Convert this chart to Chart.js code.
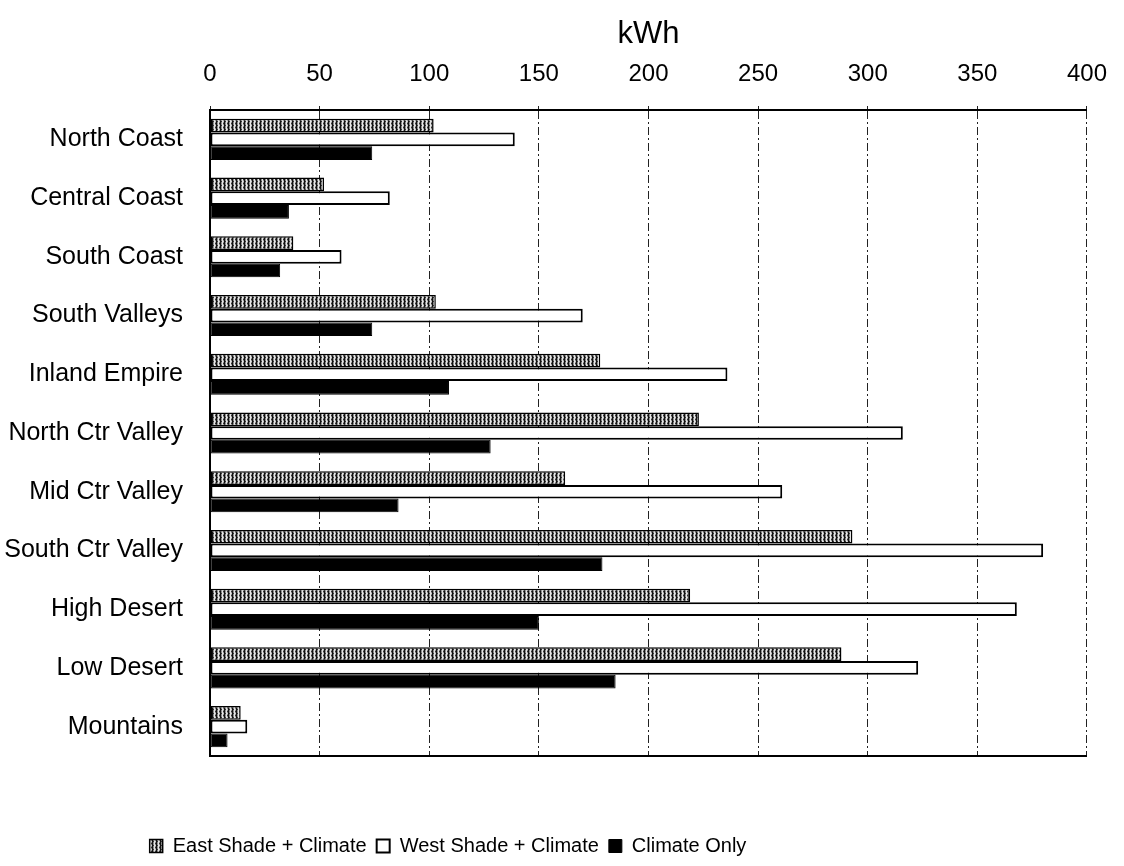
<!DOCTYPE html>
<html>
<head>
<meta charset="utf-8">
<script src="https://cdn.jsdelivr.net/npm/chart.js@4"></script>
<style>
html,body{margin:0;padding:0;background:#fff;}
#wrap{width:1124px;height:866px;}
</style>
</head>
<body>
<div id="wrap"><canvas id="c" width="1124" height="866"></canvas></div>
<script>
const categories = ["North Coast","Central Coast","South Coast","South Valleys","Inland Empire","North Ctr Valley","Mid Ctr Valley","South Ctr Valley","High Desert","Low Desert","Mountains"];
const eastShade = [102, 52, 38, 103, 178, 223, 162, 293, 219, 288, 14];
const westShade = [139, 82, 60, 170, 236, 316, 261, 380, 368, 323, 17];
const climateOnly = [74, 36, 32, 74, 109, 128, 86, 179, 150, 185, 8];
const xTicks = [0, 50, 100, 150, 200, 250, 300, 350, 400];
const seriesNames = ["East Shade + Climate", "West Shade + Climate", "Climate Only"];
const axisTitle = "kWh";

const FONT = "'Liberation Sans', Arial, sans-serif";

// hatched texture for East series
const pc = document.createElement('canvas');
pc.width = 4; pc.height = 4;
const g = pc.getContext('2d');
g.fillStyle = '#8c8c8c'; g.fillRect(0,0,4,4);
g.fillStyle = '#111'; g.fillRect(0,0,1,4);
g.fillStyle = '#e6e6e6'; g.fillRect(2,0,1,4);
g.fillStyle = '#333'; g.fillRect(1,1,1,1); g.fillRect(3,3,1,1);
g.fillStyle = '#ccc'; g.fillRect(3,1,1,1);
const hatch = g.createPattern(pc, 'repeat');

const shiftLegend = {
  id: 'shiftLegend',
  afterLayout(chart) {
    const l = chart.legend;
    if (l) { l.left = 0; l.right = 896; }
  }
};

new Chart(document.getElementById('c'), {
  type: 'bar',
  data: {
    labels: categories,
    datasets: [
      { label: seriesNames[0], data: eastShade, backgroundColor: hatch, borderColor: '#000', borderWidth: 1.5, borderSkipped: false },
      { label: seriesNames[1], data: westShade, backgroundColor: '#ffffff', borderColor: '#000', borderWidth: 2, borderSkipped: false },
      { label: seriesNames[2], data: climateOnly, backgroundColor: '#000000', borderColor: '#000', borderWidth: 1, borderSkipped: false }
    ]
  },
  options: {
    indexAxis: 'y',
    responsive: false,
    animation: false,
    categoryPercentage: 0.70,
    barPercentage: 1.0,
    layout: { padding: { left: 0, right: 30, top: 0, bottom: 0 } },
    scales: {
      x: {
        type: 'linear',
        position: 'top',
        min: 0, max: 400,
        afterBuildTicks(s) { s.ticks = xTicks.map(v => ({ value: v })); },
        afterFit(s) { s.height = 110; },
        ticks: { color: '#000', font: { family: FONT, size: 24 }, padding: 17 },
        grid: { color: '#222', lineWidth: 1, tickLength: 4, drawTicks: true },
        border: { display: true, color: '#000', width: 2, dash: [8, 3, 2, 3] },
        title: { display: true, text: axisTitle, color: '#000', font: { family: FONT, size: 31 }, padding: { top: 16, bottom: 0 } }
      },
      x2: {
        type: 'linear',
        position: 'bottom',
        min: 0, max: 400,
        afterFit(s) { s.height = 70; },
        ticks: { display: false },
        grid: { display: false },
        border: { display: true, color: '#000', width: 2 }
      },
      y: {
        type: 'category',
        afterFit(s) { s.width = 210; },
        ticks: { color: '#000', font: { family: FONT, size: 25 }, padding: 19 },
        grid: { display: false },
        border: { display: true, color: '#000', width: 2 }
      }
    },
    plugins: {
      legend: {
        position: 'bottom',
        align: 'center',
        labels: { color: '#000', font: { family: FONT, size: 20 }, boxWidth: 13, boxHeight: 13, padding: 10 }
      },
      tooltip: { enabled: false }
    }
  },
  plugins: [shiftLegend]
});
</script>
</body>
</html>
